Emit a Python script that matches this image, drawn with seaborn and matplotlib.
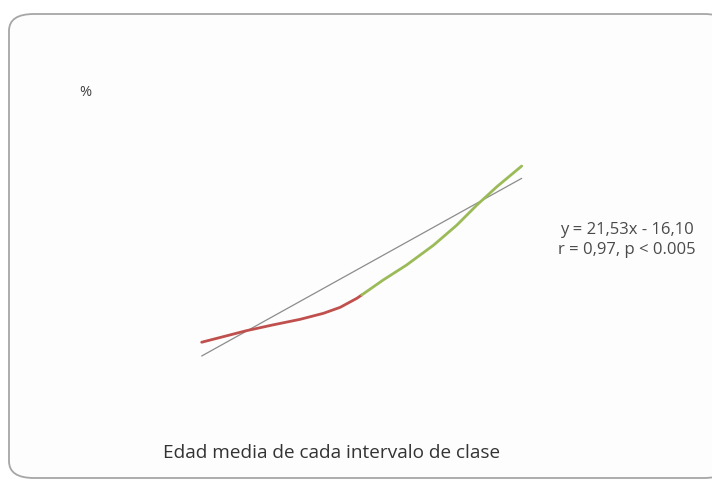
import matplotlib
matplotlib.use("Agg")
import matplotlib.pyplot as plt
from matplotlib.patches import FancyBboxPatch
import seaborn as sns
import pandas as pd

# Data (x = class index, y = %)
red_x = [1.00, 1.27, 1.56, 1.89, 2.23, 2.52, 2.73, 2.94, 3.00]
red_y = [12.1, 14.8, 17.7, 20.5, 23.2, 26.1, 29.0, 33.4, 35.0]
green_x = [3.00, 3.27, 3.56, 3.90, 4.19, 4.44, 4.69, 5.00]
green_y = [35.0, 42.3, 49.5, 59.2, 68.9, 78.6, 87.5, 97.5]
fit_x = [1.0, 5.0]
slope, intercept = 21.53, -16.10
fit_y = [slope * v + intercept for v in fit_x]

xlabel = "Edad media de cada intervalo de clase"
ylabel = "%"
eq_text = "y = 21,53x - 16,10\nr = 0,97, p < 0.005"

sns.set_theme(style="white")
plt.rcParams["font.family"] = ["Open Sans", "DejaVu Sans"]

fig = plt.figure(figsize=(7.12, 4.80), dpi=100)
fig.patch.set_facecolor("white")

# rounded frame
frame = FancyBboxPatch((9 / 712, 2 / 480), 720 / 712, 464 / 480,
                       boxstyle="round,pad=0,rounding_size=0.035",
                       transform=fig.transFigure, facecolor="#fdfdfd",
                       edgecolor="#a6a6a6", linewidth=1.3, zorder=-5)
fig.patches.append(frame)

ax = fig.add_axes([150 / 712, 80 / 480, 420 / 712, 340 / 480])
ax.set_facecolor("none")
ax.set_zorder(2)

df_red = pd.DataFrame({"x": red_x, "y": red_y})
df_green = pd.DataFrame({"x": green_x, "y": green_y})
df_fit = pd.DataFrame({"x": fit_x, "y": fit_y})

sns.lineplot(data=df_fit, x="x", y="y", ax=ax, color="#8c8c8c", linewidth=0.9, sort=False)
sns.lineplot(data=df_red, x="x", y="y", ax=ax, color="#c0504d", linewidth=2.0, sort=False,
             solid_capstyle="round", solid_joinstyle="round")
sns.lineplot(data=df_green, x="x", y="y", ax=ax, color="#9bbb59", linewidth=2.0, sort=False,
             solid_capstyle="round", solid_joinstyle="round")

ax.set_xlim(0.354, 5.604)
ax.set_ylim(-15.90, 148.91)
ax.axis("off")

fig.text(85 / 712, 1 - 93 / 480, ylabel, fontsize=10.5, color="#404040",
         ha="center", va="center")
fig.text(331.5 / 712, 1 - 453 / 480, xlabel, fontsize=13.7, color="#333333",
         ha="center", va="center")
fig.text(627 / 712, 1 - 240 / 480, eq_text, fontsize=12, color="#4a4a4a",
         ha="center", va="center", linespacing=1.3)

fig.savefig("out.png", dpi=100, facecolor="white")
